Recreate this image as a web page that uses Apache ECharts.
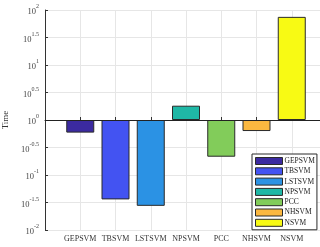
<!DOCTYPE html>
<html>
<head>
<meta charset="utf-8">
<script src="https://cdn.jsdelivr.net/npm/echarts@6/dist/echarts.min.js"></script>
<style>
  html, body { margin: 0; padding: 0; background: #fff; }
  #chart { width: 320px; height: 247px; }
</style>
</head>
<body>
<div id="chart"></div>
<script>
// 各方法的运行时间（对数坐标）
const methods = ['GEPSVM', 'TBSVM', 'LSTSVM', 'NPSVM', 'PCC', 'NHSVM', 'NSVM']
const times = [0.59, 0.036, 0.0275, 1.82, 0.215, 0.63, 75]
const colors = ['#3b2aa0', '#4353f2', '#2b92e4', '#1fb8a6', '#82cc5a', '#fbb840', '#f8fa14']
const yTicks = [-2, -1.5, -1, -0.5, 0, 0.5, 1, 1.5, 2] // 指数

const font = 'Liberation Serif'
// 两端留空的类别，模拟 xlim [0 8]
const cats = [''].concat(methods, [''])

const chart = echarts.init(document.getElementById('chart'))

const series = methods.map((m, i) => {
  const data = cats.map((c) => (c === m ? Math.log10(times[i]) : '-'))
  const s = {
    name: m,
    type: 'bar',
    data: data,
    barWidth: 28,
    barGap: '-100%',
    itemStyle: { color: colors[i], borderColor: '#2a2a2a', borderWidth: 1 }
  }
  if (i === 0) {
    // 10^0 处的基线
    s.markLine = {
      silent: true,
      symbol: 'none',
      label: { show: false },
      lineStyle: { color: '#222', width: 1, type: 'solid' },
      data: [{ yAxis: 0 }],
      animation: false
    }
  }
  return s
})

const option = {
  animation: false,
  grid: { left: 45, top: 10, width: 282, height: 220, outerBoundsMode: 'none' },
  legend: {
    orient: 'vertical',
    left: 252,
    top: 154,
    data: methods,
    itemWidth: 27,
    itemHeight: 7,
    itemGap: 2.3,
    padding: [3, 2, 3, 3],
    backgroundColor: '#fff',
    borderColor: '#2a2a2a',
    borderWidth: 1,
    borderRadius: 0,
    icon: 'rect',
    itemStyle: { borderColor: '#2a2a2a', borderWidth: 1 },
    textStyle: { fontFamily: font, fontSize: 7.5, color: '#222', padding: [0, 0, 0, -3] }
  },
  xAxis: {
    type: 'category',
    data: cats,
    boundaryGap: false,
    axisLine: { lineStyle: { color: '#333', width: 1 } },
    axisTick: { inside: true, length: 3, lineStyle: { color: '#333' } },
    axisLabel: { interval: 0, fontFamily: font, fontSize: 8, color: '#333', margin: 5 },
    splitLine: { show: true, lineStyle: { color: '#e6e6e6', width: 1 } }
  },
  yAxis: {
    type: 'value',
    min: -2,
    max: 2,
    interval: 0.5,
    name: 'Time',
    nameLocation: 'middle',
    nameGap: 30,
    nameTextStyle: { fontFamily: font, fontSize: 9, color: '#333' },
    axisLine: { show: true, lineStyle: { color: '#333', width: 1 } },
    axisTick: { show: true, inside: true, length: 3, lineStyle: { color: '#333' } },
    axisLabel: {
      margin: 6,
      formatter: (v) => '{b|10}{s|' + v + '}',
      rich: {
        b: { fontFamily: font, fontSize: 8.5, color: '#444', lineHeight: 13, verticalAlign: 'bottom' },
        s: { fontFamily: font, fontSize: 6, color: '#444', lineHeight: 13, verticalAlign: 'top' }
      }
    },
    splitLine: { show: true, lineStyle: { color: '#e6e6e6', width: 1 } }
  },
  series: series
}

chart.setOption(option)
</script>
</body>
</html>
